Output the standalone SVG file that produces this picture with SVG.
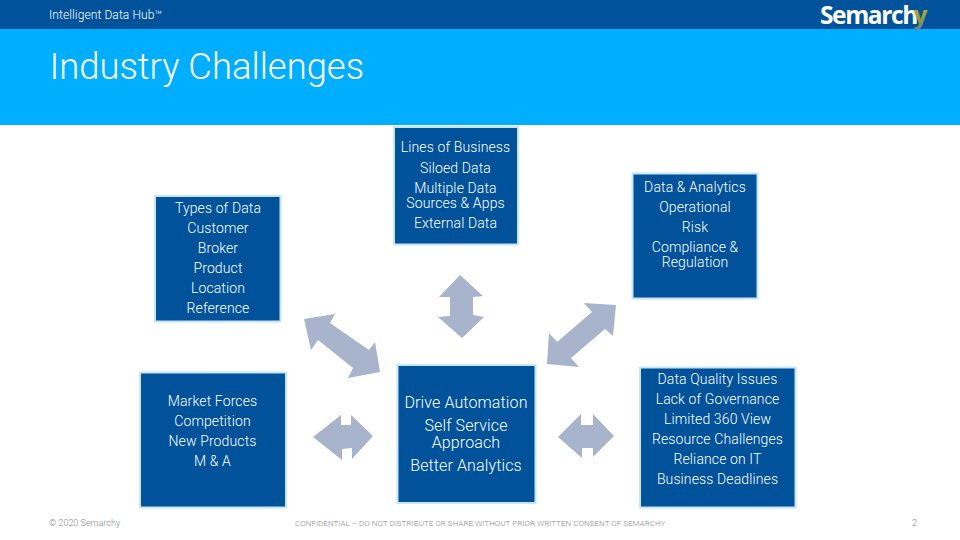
<svg xmlns="http://www.w3.org/2000/svg" width="960" height="540" viewBox="0 0 960 540">
<defs><linearGradient id="yg" x1="0" y1="0" x2="0" y2="1"><stop offset="0" stop-color="#f2b233"/><stop offset=".6" stop-color="#8fa03c"/><stop offset="1" stop-color="#6f7f8a"/></linearGradient></defs>
<style>
text{font-family:Roboto,"Liberation Sans",sans-serif}
.box{fill:#00529b;stroke:#c6e5f8;stroke-width:2}
.t{fill:#fff;font-size:14px;font-weight:300;text-anchor:middle;letter-spacing:.12px}
.c{fill:#fff;font-size:16px;font-weight:300;text-anchor:middle;letter-spacing:.12px}
.arr{fill:#a7b4cc}
.f{fill:#8a8a8a;font-size:9px;font-weight:300}
.logo{font-family:'Open Sans',sans-serif;font-weight:700;letter-spacing:-1.400px}
</style>
<rect width="960" height="540" fill="#fff"/>
<rect id="banner" y="28" width="960" height="97" fill="#00aeff"/>
<rect id="topbar" width="960" height="29" fill="#00529b"/>
<text x="49" y="19" fill="#fff" font-size="12px" font-weight="300" style="letter-spacing:.1px">Intelligent Data Hub™</text>
<text x="49.500" y="79" fill="#fff" font-size="36.400px" font-weight="300">Industry Challenges</text>
<g id="logo"><text class="logo" x="820" y="24" fill="#fff" font-size="24.500px">Semarch</text><text class="logo" x="913.500" y="24" fill="url(#yg)" font-size="24.500px">y</text></g>
<g id="connectors" class="arr">
<polygon points="304,319 335,314 330,323 369,350 375,342 380,372 348,378 353,368 318,340 311,350"/>
<polygon points="460,275 483,296 473,297 473,315 484,317 462,338 438,317 450,316 450,297 439,297"/>
<polygon points="616,305 584,303 592,312 557,342 549,333 547,364 579,367 571,358 605,329 613,336"/>
<polygon points="313,437 341,415 341,425 351,425 351,415 373,436 352,459 352,448 342,449 342,460"/>
<polygon points="558,437 581,414 581,425 593,425 593,414 614,436 593,457 593,448 582,448 582,458"/>
</g>
<g id="node-types"><rect class="box" x="155" y="196" width="125.500" height="125.500"/>
<text class="t" x="218" y="213">Types of Data</text><text class="t" x="218" y="233">Customer</text><text class="t" x="218" y="253">Broker</text><text class="t" x="218" y="273">Product</text><text class="t" x="218" y="293">Location</text><text class="t" x="218" y="313">Reference</text></g>
<g id="node-lines"><rect class="box" x="394" y="127" width="124" height="117.500"/>
<text class="t" x="455.500" y="152">Lines of Business</text><text class="t" x="455.500" y="173">Siloed Data</text><text class="t" x="455.500" y="193">Multiple Data</text><text class="t" x="455.500" y="208">Sources &amp; Apps</text><text class="t" x="455.500" y="228">External Data</text></g>
<g id="node-analytics"><rect class="box" x="632.500" y="173.500" width="125" height="125"/>
<text class="t" x="695" y="192">Data &amp; Analytics</text><text class="t" x="695" y="212">Operational</text><text class="t" x="695" y="232">Risk</text><text class="t" x="695" y="252">Compliance &amp;</text><text class="t" x="695" y="267">Regulation</text></g>
<g id="node-market"><rect class="box" x="140" y="372.500" width="146" height="135"/>
<text class="t" x="212.500" y="406">Market Forces</text><text class="t" x="212.500" y="426">Competition</text><text class="t" x="212.500" y="446">New Products</text><text class="t" x="212.500" y="466">M &amp; A</text></g>
<g id="node-center"><rect class="box" x="397.500" y="365" width="138" height="138"/>
<text class="c" x="466" y="408">Drive Automation</text><text class="c" x="466" y="431">Self Service</text><text class="c" x="466" y="448">Approach</text><text class="c" x="466" y="471">Better Analytics</text></g>
<g id="node-quality"><rect class="box" x="640" y="367.500" width="155.500" height="140"/>
<text class="t" x="717.500" y="384">Data Quality Issues</text><text class="t" x="717.500" y="404">Lack of Governance</text><text class="t" x="717.500" y="424">Limited 360 View</text><text class="t" x="717.500" y="444">Resource Challenges</text><text class="t" x="717.500" y="464">Reliance on IT</text><text class="t" x="717.500" y="484">Business Deadlines</text></g>
<text class="f" x="49" y="526">© 2020 Semarchy</text>
<text class="f" x="295" y="526" style="font-size:8px;letter-spacing:.03px">CONFIDENTIAL – DO NOT DISTRIBUTE OR SHARE WITHOUT PRIOR WRITTEN CONSENT OF SEMARCHY</text>
<text class="f" x="912" y="526">2</text>
</svg>
